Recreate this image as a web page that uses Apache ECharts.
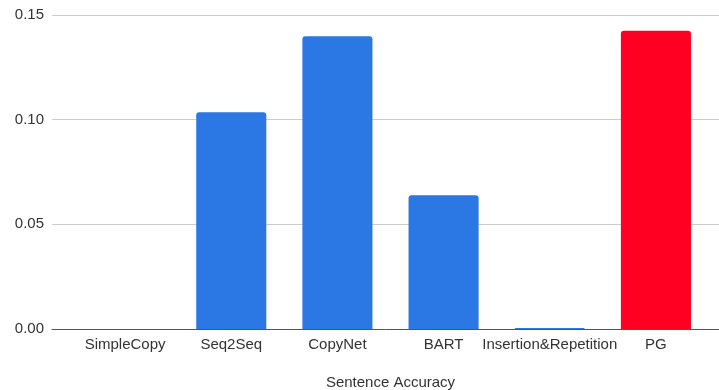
<!DOCTYPE html>
<html>
<head>
<meta charset="utf-8">
<script src="https://cdn.jsdelivr.net/npm/echarts@6/dist/echarts.min.js"></script>
<style>
  html, body { margin: 0; padding: 0; background: #fff; }
  #chart { width: 719px; height: 390px; }
</style>
</head>
<body>
<div id="chart"></div>
<script>
// Sentence accuracy per model
const categories = ['SimpleCopy', 'Seq2Seq', 'CopyNet', 'BART', 'Insertion&Repetition', 'PG'];
const accuracy = [0, 0.1035, 0.1398, 0.0639, 0.0005, 0.1425];
const highlighted = 'PG';
const yTicks = [0, 0.05, 0.10, 0.15];

const BLUE = '#2b78e4';
const RED = '#ff0022';
const FONT = 'Liberation Sans, Arial, sans-serif';

const chart = echarts.init(document.getElementById('chart'), null, { renderer: 'canvas' });

const yMin = yTicks[0];
const yMax = yTicks[yTicks.length - 1];
const yStep = yTicks[1] - yTicks[0];

const TOP = 15;
const BOTTOM = 61;

chart.setOption({
  animation: false,
  backgroundColor: '#ffffff',
  textStyle: { fontFamily: FONT },
  grid: [
    // wide grid carrying the value axis, gridlines and baseline
    { left: 52, right: 0, top: TOP, bottom: BOTTOM, outerBoundsMode: 'none', containLabel: false },
    // inner grid carrying the category axis and bars
    { left: 72, right: 10, top: TOP, bottom: BOTTOM, outerBoundsMode: 'none', containLabel: false }
  ],
  xAxis: [
    {
      gridIndex: 0, type: 'value', min: 0, max: 1,
      axisLine: { show: true, lineStyle: { color: '#555', width: 1 } },
      axisTick: { show: false },
      axisLabel: { show: false }, splitLine: { show: false }
    },
    {
      gridIndex: 1, type: 'category', data: categories,
      axisLine: { show: false },
      axisTick: { show: false },
      axisLabel: { color: '#333', fontSize: 15, margin: 8, interval: 0, fontFamily: FONT },
      name: 'Sentence Accuracy',
      nameLocation: 'middle',
      nameGap: 46,
      nameTextStyle: { color: '#333', fontSize: 15, fontFamily: FONT }
    }
  ],
  yAxis: [
    {
      gridIndex: 0, type: 'value', min: yMin, max: yMax, interval: yStep,
      axisLine: { show: false }, axisTick: { show: false },
      axisLabel: {
        color: '#333', fontSize: 15, margin: 8, fontFamily: FONT,
        formatter: v => v.toFixed(2)
      },
      splitLine: { show: true, lineStyle: { color: '#cccccc', width: 1 } }
    },
    {
      gridIndex: 1, type: 'value', min: yMin, max: yMax, interval: yStep,
      show: false, splitLine: { show: false }
    }
  ],
  series: [
    {
      type: 'bar', xAxisIndex: 1, yAxisIndex: 1,
      data: categories.map((c, i) => ({
        value: accuracy[i],
        itemStyle: { color: c === highlighted ? RED : BLUE }
      })),
      barCategoryGap: '34%',
      itemStyle: { borderRadius: [3, 3, 0, 0] },
      z: 3
    }
  ]
});
</script>
</body>
</html>
